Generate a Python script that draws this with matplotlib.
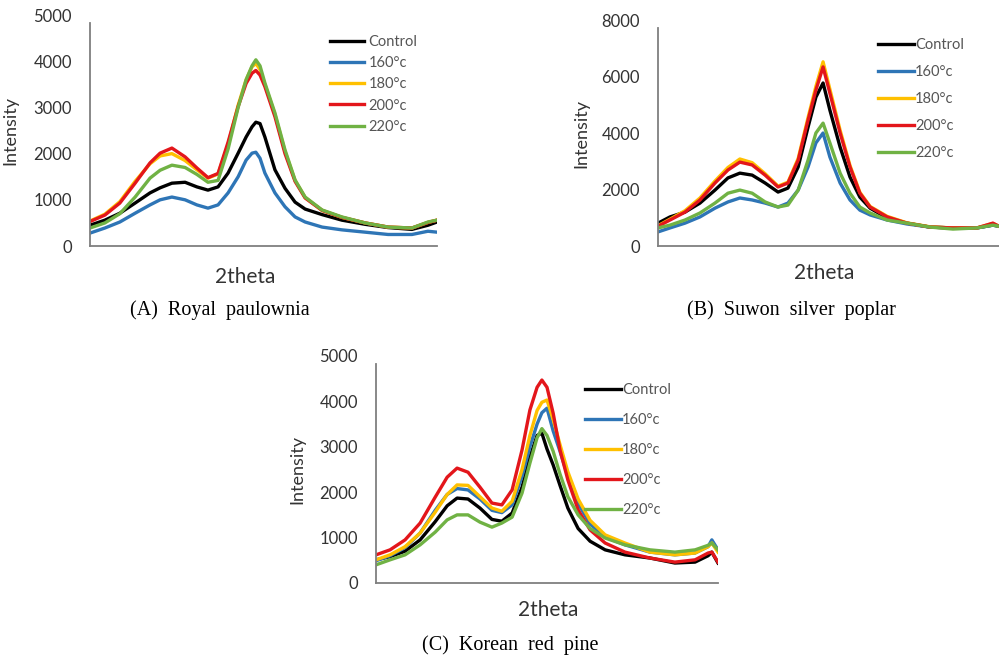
import matplotlib
matplotlib.use("Agg")
import matplotlib.pyplot as plt

plt.rcParams['font.family'] = ['Lato', 'DejaVu Sans']

labels = ['Control', '160°c', '180°c', '200°c', '220°c']
colors = ['#000000', '#2E75B6', '#FFC000', '#E3161B', '#70B244']

# (A) Royal paulownia  -- x is position along the 2theta axis (% of axis width)
x_a = [0, 4.3, 8.6, 13.0, 17.3, 20.2, 23.6, 27.4, 30.8, 34.0, 36.9, 39.8, 42.7, 45.0, 46.7,
       47.8, 49.0, 50.4, 53.3, 56.2, 59.1, 62.0, 66.9, 72.6, 79.3, 85.9, 92.8, 97.4, 100]
a_control = [450, 560, 710, 930, 1150, 1260, 1360, 1380, 1280, 1210, 1280, 1580, 2010, 2360, 2580,
             2680, 2650, 2360, 1650, 1250, 950, 800, 680, 560, 470, 400, 360, 450, 520]
a_160 = [280, 390, 520, 710, 890, 1000, 1060, 1000, 890, 820, 890, 1150, 1500, 1860, 2010,
         2030, 1900, 1580, 1150, 850, 630, 520, 410, 350, 300, 250, 250, 320, 300]
a_180 = [540, 690, 960, 1400, 1780, 1950, 2000, 1850, 1650, 1470, 1560, 2200, 3050, 3600, 3880,
         3950, 3820, 3500, 2850, 2050, 1420, 1050, 770, 620, 500, 410, 390, 510, 560]
a_200 = [530, 670, 930, 1360, 1800, 2010, 2120, 1930, 1690, 1480, 1570, 2250, 3020, 3520, 3740,
         3800, 3700, 3450, 2800, 2000, 1400, 1040, 770, 620, 500, 410, 390, 510, 560]
a_220 = [390, 500, 700, 1060, 1470, 1640, 1750, 1700, 1550, 1380, 1420, 2100, 3000, 3600, 3900,
         4030, 3900, 3530, 2880, 2080, 1430, 1060, 780, 630, 500, 410, 390, 520, 560]

# (B) Suwon silver poplar
x_b = [0, 3.5, 7.9, 12.3, 16.7, 20.5, 24.0, 27.6, 31.4, 35.2, 38.1, 41.1, 44.0, 46.3,
       48.4, 50.4, 53.4, 56.3, 59.2, 62.2, 67.2, 73.0, 79.8, 86.5, 93.5, 98.2, 100]
b_control = [810, 1030, 1200, 1520, 1980, 2410, 2580, 2510, 2230, 1910, 2050, 2800, 4210, 5270,
             5770, 4810, 3500, 2440, 1730, 1340, 990, 810, 670, 640, 640, 740, 700]
b_160 = [500, 640, 810, 1030, 1340, 1560, 1700, 1630, 1520, 1380, 1520, 1980, 2800, 3650,
         4000, 3150, 2230, 1630, 1270, 1100, 920, 780, 670, 640, 640, 740, 700]
b_180 = [720, 950, 1250, 1700, 2300, 2780, 3080, 2950, 2560, 2120, 2260, 3100, 4550, 5650,
         6520, 5550, 4100, 2850, 1900, 1400, 1050, 820, 680, 640, 640, 800, 700]
b_200 = [700, 920, 1200, 1630, 2230, 2690, 2970, 2870, 2510, 2090, 2230, 3040, 4460, 5520,
         6340, 5410, 4000, 2800, 1870, 1380, 1030, 810, 670, 640, 640, 810, 700]
b_220 = [640, 740, 920, 1170, 1520, 1870, 1980, 1870, 1560, 1380, 1450, 1980, 3040, 4000,
         4350, 3650, 2580, 1870, 1380, 1170, 920, 810, 670, 600, 640, 740, 700]

# (C) Korean red pine
x_c = [0, 4.1, 8.5, 12.9, 17.3, 20.8, 23.7, 26.9, 30.4, 33.9, 36.8, 39.8, 42.7, 45.0, 47.1,
       48.5, 50.0, 51.8, 53.8, 56.1, 59.1, 62.6, 67.0, 72.8, 80.1, 87.4, 93.3, 97.1, 98.2, 100]
c_control = [510, 580, 700, 950, 1350, 1700, 1870, 1850, 1650, 1400, 1360, 1540, 2110, 2770, 3250,
             3300, 2950, 2600, 2150, 1650, 1200, 920, 730, 620, 550, 440, 460, 600, 680, 440]
c_160 = [490, 600, 780, 1100, 1600, 1950, 2080, 2050, 1850, 1600, 1550, 1720, 2350, 3000, 3500,
         3750, 3850, 3350, 2900, 2350, 1750, 1300, 1010, 840, 680, 620, 660, 800, 950, 730]
c_180 = [510, 620, 800, 1100, 1560, 1950, 2160, 2150, 1900, 1650, 1580, 1800, 2500, 3250, 3800,
         3980, 4030, 3600, 3050, 2450, 1850, 1380, 1060, 880, 680, 620, 660, 800, 880, 680]
c_200 = [620, 730, 950, 1320, 1890, 2330, 2530, 2440, 2110, 1760, 1720, 2050, 2930, 3810, 4310,
         4470, 4310, 3740, 2930, 2270, 1610, 1170, 880, 680, 550, 460, 510, 660, 680, 460]
c_220 = [400, 510, 620, 840, 1120, 1390, 1500, 1500, 1340, 1230, 1320, 1450, 1980, 2640, 3200,
         3400, 3250, 2900, 2400, 1900, 1500, 1200, 990, 840, 730, 680, 730, 830, 880, 730]

panels = [
    dict(rect=[0.0901, 0.6261, 0.3473, 0.3511], x=x_a, ys=[a_control, a_160, a_180, a_200, a_220],
         ymax=5000, step=1000, ylab=-0.207, xlab=(0.447, -0.091),
         leg=dict(anchor=(0.692, 0.913), hl=2.3, htp=0.35, ls=0.49),
         cap='(A)  Royal  paulownia', cap_xy=(220, 310)),
    dict(rect=[0.6587, 0.6261, 0.3413, 0.3435], x=x_b, ys=[b_control, b_160, b_180, b_200, b_220],
         ymax=8000, step=2000, ylab=-0.202, xlab=(0.487, -0.075),
         leg=dict(anchor=(0.645, 0.921), hl=2.5, htp=0.05, ls=0.9),
         cap='(B)  Suwon  silver  poplar', cap_xy=(791, 310)),
    dict(rect=[0.3764, 0.1140, 0.3423, 0.3450], x=x_c, ys=[c_control, c_160, c_180, c_200, c_220],
         ymax=5000, step=1000, ylab=-0.208, xlab=(0.503, -0.075),
         leg=dict(anchor=(0.611, 0.882), hl=2.5, htp=0.05, ls=1.1),
         cap='(C)  Korean  red  pine', cap_xy=(510, 645)),
]

fig = plt.figure(figsize=(9.99, 6.58), dpi=100)

for p in panels:
    ax = fig.add_axes(p['rect'])
    for y, c, lab in zip(p['ys'], colors, labels):
        ax.plot(p['x'], y, color=c, lw=2.4, label=lab, solid_joinstyle='round')
    ax.set_xlim(0, 100)
    ax.set_ylim(0, p['ymax'])
    ax.set_yticks(range(0, p['ymax'] + 1, p['step']))
    ax.set_xticks([])
    ax.tick_params(axis='y', length=0, pad=13, labelsize=12, labelcolor='#333333')
    for s in ['top', 'right']:
        ax.spines[s].set_visible(False)
    for s in ['left', 'bottom']:
        ax.spines[s].set_color('#7f7f7f')
        ax.spines[s].set_linewidth(1.3)
    ax.spines['left'].set_bounds(0, p['ymax'] * 0.965)
    ax.set_ylabel('Intensity', fontsize=13, color='#333333')
    ax.yaxis.set_label_coords(p['ylab'], 0.5)
    ax.set_xlabel('2theta', fontsize=15, color='#333333')
    ax.xaxis.set_label_coords(*p['xlab'])
    lg = p['leg']
    ax.legend(loc='upper left', bbox_to_anchor=lg['anchor'], frameon=False, fontsize=10.5,
              handlelength=lg['hl'], handletextpad=lg['htp'], labelspacing=lg['ls'],
              borderpad=0, borderaxespad=0, labelcolor='#555555')
    fig.text(p['cap_xy'][0] / 999, 1 - p['cap_xy'][1] / 658, p['cap'], ha='center', va='center',
             fontsize=14.5, family='Liberation Serif')

fig.savefig('out.png', dpi=100)
